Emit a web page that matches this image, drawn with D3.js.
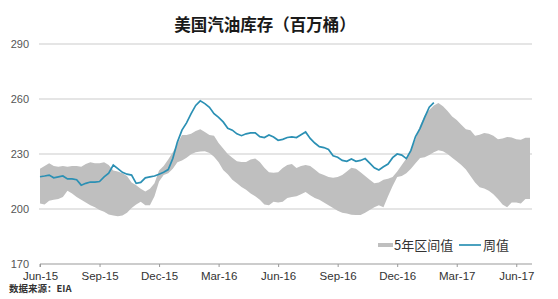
<!DOCTYPE html>
<html><head><meta charset="utf-8">
<script src="https://cdn.jsdelivr.net/npm/d3@7/dist/d3.min.js"></script>
<style>body{margin:0;background:#fff;}svg{display:block;}</style>
</head><body>
<svg id="c" width="558" height="299"></svg>
<script>
const tickLabels = ["Jun-15","Sep-15","Dec-15","Mar-16","Jun-16","Sep-16","Dec-16","Mar-17","Jun-17"];
const yTicks = [170,200,230,260,290];
const seriesNames = ["5年区间值","周值"];
// weekly gasoline stocks (million barrels), from first week of Jun-15
const weekly = [217.6,218,218.5,217,217.5,218,216.4,216.4,216,213,
214,214.7,214.7,215,217.5,219.5,224,222,220,219,
218.5,214,214.5,217,217.5,218,219,220,221.5,227.5,
236.5,243,247,252,256.5,259,257.5,255.5,252,250,
247.5,244,243,241,240,241,241.5,241.5,239.5,239,
240.4,239.3,237.5,238,239,239.3,239,240.5,242,238.5,
236,234,233.5,232.5,229,228.2,226.5,226,227.3,226,
226.5,227.5,225,222.5,221.3,223,224.5,228,230,229.4,
227.5,232,239.5,244,250,255.5,258];
// 5-year range upper / lower
const rangeHigh = [222,223.5,225,223.5,223,223.5,223,223.5,223.5,223,
224.5,225.5,225,225,225.5,224,221,220.5,219.5,218,
214.5,213,211,209.5,211,214,221,223.5,227,231,
235.5,240.4,240.4,241,242.5,243.5,242,240.4,240,236,
233,230,228,226,225.6,225.6,227,227.5,225.6,222.5,
220,219.8,220,222.4,224,224.5,222.4,223.5,224,223.5,
221.5,219.5,218.5,217.5,217,217.5,218.5,220.5,222.5,222,
220,218,216,214,214.5,216,216.5,217.5,220.5,224,
227.5,232.5,238,245.5,251,254,256.5,257.8,256,253.5,
250.5,248.5,246,243.5,243,240,240.5,241.5,241,240,
238,238.5,239.3,239,238,237.8,238.8,238.8];
const rangeLow = [203,202.5,204.5,205,205.5,206.5,210,208.5,206.5,205,
203.5,202,201,199.5,198.5,197,196.5,196,196.5,198,
200.5,202.5,204,202,202,207,215,218.5,219.5,222,
225.5,226.5,228,229.8,231,231.4,231.5,230.5,228.5,225.5,
221.3,219,216,214,212,210.5,208.5,207,205,202.5,
202,204,203.5,204,206,206.5,207,208,209.3,207.5,
206,205,203.5,202,200.5,199,198,197.5,196.8,196.7,
196.7,198,199.5,201,202,201,207,212.5,217.5,218,
219.5,222,225,227.8,228.2,229.5,231,232,231.5,230,
228,226,224,221.5,218,214.5,211.8,211.2,210,208,
205.5,202.5,201,203.5,203.5,203,205.5,205.5];

const svg = d3.select("#c");
const x = d3.scaleLinear().domain([0, rangeHigh.length-1]).range([40, 530]);
const y = d3.scaleLinear().domain([170, 290]).range([264, 44]);
const numFont = "'Liberation Sans', Arial, sans-serif";
const cjkFont = "'Noto Sans CJK SC', sans-serif";

// title
svg.append("text").attr("x", 265).attr("y", 31).attr("text-anchor","middle")
  .attr("font-family", cjkFont).attr("font-weight","bold").attr("font-size",16.5)
  .attr("fill","#1a1a1a").text("美国汽油库存（百万桶）");

// gridlines
svg.append("g").selectAll("line").data(yTicks.filter(d=>d>170)).join("line")
  .attr("x1", 39).attr("x2", 532).attr("y1", d=>y(d)).attr("y2", d=>y(d))
  .attr("stroke","#dcdcdc").attr("stroke-width",1.5);

// y labels
svg.append("g").selectAll("text").data(yTicks).join("text")
  .attr("x", 29).attr("y", d=>y(d)+4).attr("text-anchor","end")
  .attr("font-family", numFont).attr("font-size",11).attr("fill","#555").text(d=>d);

// band
const idx = d3.range(rangeHigh.length);
svg.append("path").datum(idx)
  .attr("d", d3.area().x(i=>x(i)).y0(i=>y(rangeLow[i])).y1(i=>y(rangeHigh[i])))
  .attr("fill","#bfbfbf");

// weekly line
svg.append("path").datum(weekly)
  .attr("d", d3.line().x((d,i)=>x(i)).y(d=>y(d)))
  .attr("fill","none").attr("stroke","#2b90b4").attr("stroke-width",1.7);

// x axis
const xTickVals = tickLabels.map((d,i)=>i*13);
const ax = svg.append("g").attr("transform",`translate(0,${y(170)})`)
  .call(d3.axisBottom(x).tickValues(xTickVals).tickFormat((d,i)=>tickLabels[i]).tickSize(3).tickSizeOuter(0));
ax.select(".domain").attr("stroke","#999").attr("d", `M${x(0)},3V0H532`);
ax.selectAll(".tick line").attr("stroke","#999");
ax.selectAll(".tick text").attr("font-family", numFont).attr("font-size",11.5).attr("fill","#333").attr("dy","0.9em");

// legend
const lg = svg.append("g");
lg.append("line").attr("x1",378).attr("x2",393).attr("y1",245).attr("y2",245).attr("stroke","#bfbfbf").attr("stroke-width",4);
lg.append("text").attr("x",394).attr("y",250).attr("font-family",cjkFont).attr("font-size",13).attr("fill","#333").text(seriesNames[0]);
lg.append("line").attr("x1",459).attr("x2",481).attr("y1",245).attr("y2",245).attr("stroke","#2b90b4").attr("stroke-width",1.7);
lg.append("text").attr("x",483).attr("y",250).attr("font-family",cjkFont).attr("font-size",13).attr("fill","#333").text(seriesNames[1]);

// source
svg.append("text").attr("x",9).attr("y",292).attr("font-family",cjkFont).attr("font-weight","bold")
  .attr("font-size",9.5).attr("fill","#333").text("数据来源：EIA");
</script>
</body></html>
